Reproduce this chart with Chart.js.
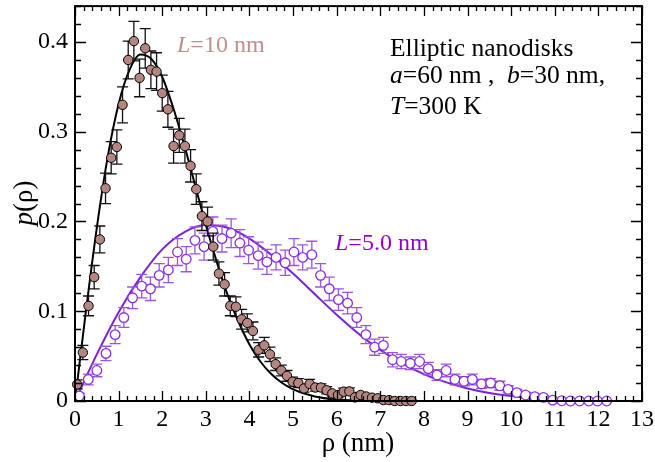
<!DOCTYPE html>
<html>
<head>
<meta charset="utf-8">
<script src="https://cdn.jsdelivr.net/npm/chart.js@4/dist/chart.umd.min.js"></script>
<style>
html,body{margin:0;padding:0;background:#fff;}
#wrap{width:655px;height:462px;}
</style>
</head>
<body>
<div id="wrap"><canvas id="c" width="655" height="462"></canvas></div>
<script>
// ---- data ----
const brownX = [0.05,0.18,0.31,0.44,0.57,0.70,0.83,0.96,1.09,1.22,1.35,1.48,1.61,1.74,1.87,2.00,2.13,2.26,2.39,2.52,2.65,2.78,2.91,3.04,3.17,3.30,3.43,3.56,3.69,3.82,3.95,4.08,4.21,4.34,4.47,4.60,4.73,4.86,4.99,5.12,5.25,5.38,5.51,5.64,5.77,5.90,6.03,6.16,6.29,6.42,6.55,6.68,6.81,6.94,7.07,7.20,7.33,7.46,7.59,7.72];
const brownY = [0.0185,0.054,0.106,0.138,0.180,0.237,0.271,0.283,0.330,0.380,0.401,0.360,0.393,0.369,0.367,0.343,0.325,0.284,0.296,0.284,0.262,0.236,0.206,0.200,0.172,0.142,0.130,0.106,0.105,0.091,0.087,0.078,0.057,0.062,0.052,0.041,0.034,0.028,0.0215,0.020,0.014,0.019,0.015,0.015,0.012,0.0085,0.0067,0.0104,0.0107,0.004,0.0067,0.005,0.0037,0.003,0.001,0.001,0,0,0,0];
const brownErr = [0.005,0.008,0.011,0.013,0.015,0.017,0.018,0.019,0.020,0.021,0.022,0.021,0.022,0.021,0.021,0.020,0.020,0.019,0.019,0.019,0.018,0.017,0.016,0.016,0.015,0.013,0.013,0.011,0.011,0.011,0.010,0.010,0.008,0.009,0.008,0.007,0.006,0.006,0.005,0.005,0.004,0.005,0.004,0.004,0.004,0.003,0.003,0.004,0.004,0.002,0.003,0.002,0.002,0.002,0.001,0.001,0,0,0,0];

const purpleX = [0.10,0.305,0.50,0.71,0.92,1.12,1.32,1.53,1.73,1.93,2.14,2.35,2.55,2.75,2.96,3.16,3.37,3.58,3.78,3.98,4.20,4.40,4.61,4.82,5.02,5.22,5.43,5.63,5.83,6.04,6.25,6.46,6.67,6.87,7.07,7.28,7.48,7.69,7.90,8.10,8.30,8.51,8.71,8.92,9.11,9.32,9.53,9.74,9.93,10.13,10.33,10.54,10.74,10.95,11.16,11.36,11.57,11.78,11.98,12.19];
const purpleY = [0.0056,0.024,0.034,0.053,0.074,0.093,0.115,0.128,0.125,0.140,0.146,0.166,0.158,0.179,0.172,0.189,0.181,0.187,0.176,0.168,0.162,0.155,0.160,0.154,0.166,0.160,0.163,0.140,0.125,0.113,0.109,0.093,0.074,0.060,0.062,0.046,0.044,0.042,0.044,0.036,0.029,0.034,0.024,0.022,0.024,0.019,0.020,0.017,0.013,0.0093,0.0067,0.0048,0.004,0.001,0.0003,0,0,0,0,0];
const purpleErr = [0.003,0.006,0.007,0.008,0.010,0.011,0.012,0.013,0.013,0.013,0.014,0.015,0.014,0.015,0.015,0.016,0.015,0.016,0.015,0.015,0.015,0.014,0.014,0.014,0.015,0.014,0.015,0.013,0.013,0.012,0.012,0.011,0.010,0.009,0.009,0.008,0.008,0.007,0.008,0.007,0.006,0.007,0.006,0.005,0.006,0.005,0.005,0.005,0.004,0.0035,0.003,0.0025,0.002,0,0,0,0,0,0,0];

const blackCurveX = [0,0.25,0.5,0.75,1,1.25,1.5,1.75,2,2.25,2.5,2.75,3,3.25,3.5,3.75,4,4.25,4.5,4.75,5,5.5,6,6.5,7,7.7];
const blackCurveY = [0,0.100,0.193,0.272,0.331,0.369,0.386,0.381,0.361,0.327,0.286,0.241,0.196,0.155,0.118,0.088,0.063,0.044,0.030,0.020,0.013,0.005,0.0016,0.0005,0.0001,0];

const purpleCurveX = [0,0.5,1,1.5,2,2.5,3,3.5,4,4.5,5,5.5,6,6.5,7,7.5,8,8.5,9,9.5,10,10.5,11,11.5,12];
const purpleCurveY = [0,0.052,0.099,0.138,0.169,0.188,0.196,0.193,0.181,0.163,0.142,0.119,0.096,0.075,0.057,0.042,0.030,0.021,0.014,0.009,0.0057,0.0035,0.0021,0.0012,0.0006];

const xTickValues = [0,1,2,3,4,5,6,7,8,9,10,11,12,13];
const xTickLabels = ['0','1','2','3','4','5','6','7','8','9','10','11','12','13'];
const yTickValues = [0,0.1,0.2,0.3,0.4];
const yTickLabels = ['0','0.1','0.2','0.3','0.4'];

// ---- styles ----
const SERIF = '"Liberation Serif", "Times New Roman", serif';
const BROWN_FILL = '#b5857f';
const PURPLE = '#8a2be2';
const PURPLE_BAR = '#9b55e0';
const PURPLE_CURVE = '#7a22d6';
const PURPLE_TEXT = '#9400d3';
const ROSY_TEXT = '#bf8f8f';

const pts = (xs, ys) => xs.map((x, i) => ({x: x, y: ys[i]}));

function drawRuns(ctx, x, y, runs, size, color) {
  ctx.fillStyle = color;
  ctx.textBaseline = 'alphabetic';
  ctx.textAlign = 'left';
  let cx = x;
  for (const r of runs) {
    ctx.font = (r.i ? 'italic ' : '') + size + 'px ' + SERIF;
    ctx.fillText(r.t, cx, y);
    cx += ctx.measureText(r.t).width;
  }
}

const framePlugin = {
  id: 'frame',
  beforeDatasetDraw(chart, args) {
    const ds = chart.data.datasets[args.index];
    if (!ds.errors) return;
    const xs = chart.scales.x, ys = chart.scales.y, ctx = chart.ctx, a = chart.chartArea;
    ctx.save();
    ctx.beginPath();
    ctx.rect(a.left, a.top, a.right - a.left, a.bottom - a.top);
    ctx.clip();
    ctx.strokeStyle = ds.errorColor;
    ctx.lineWidth = 1.3;
    ds.data.forEach((p, i) => {
      const e = ds.errors[i];
      if (!e) return;
      const px = xs.getPixelForValue(p.x);
      const y1 = ys.getPixelForValue(p.y + e);
      const y2 = ys.getPixelForValue(p.y - e);
      ctx.beginPath();
      ctx.moveTo(px, y1); ctx.lineTo(px, y2);
      ctx.moveTo(px - 5.5, y1); ctx.lineTo(px + 5.5, y1);
      ctx.moveTo(px - 5.5, y2); ctx.lineTo(px + 5.5, y2);
      ctx.stroke();
    });
    ctx.restore();
  },
  afterDraw(chart) {
    const ctx = chart.ctx, a = chart.chartArea;
    const xs = chart.scales.x, ys = chart.scales.y;
    ctx.save();
    // ticks inside on all four sides
    ctx.strokeStyle = '#000';
    ctx.lineWidth = 1.3;
    ctx.beginPath();
    for (let k = 0; k <= 65; k++) {
      const v = k * 0.2;
      const px = Math.round(xs.getPixelForValue(v)) + 0.5;
      const len = (k % 5 === 0) ? 10 : 5;
      ctx.moveTo(px, a.bottom); ctx.lineTo(px, a.bottom - len);
      ctx.moveTo(px, a.top); ctx.lineTo(px, a.top + len);
    }
    for (let k = 0; k <= 22; k++) {
      const v = k * 0.02;
      const py = Math.round(ys.getPixelForValue(v)) + 0.5;
      const len = (k % 5 === 0) ? 11 : 6;
      ctx.moveTo(a.left, py); ctx.lineTo(a.left + len, py);
      ctx.moveTo(a.right, py); ctx.lineTo(a.right - len, py);
    }
    ctx.stroke();
    // frame
    ctx.lineWidth = 2;
    ctx.strokeRect(a.left, a.top, a.right - a.left, a.bottom - a.top);

    // axis titles
    ctx.fillStyle = '#000';
    ctx.font = '27px ' + SERIF;
    ctx.textAlign = 'center';
    ctx.textBaseline = 'alphabetic';
    ctx.fillText('\u03C1 (nm)', 358, 451);

    ctx.save();
    ctx.translate(32, 203);
    ctx.rotate(-Math.PI / 2);
    ctx.font = 'italic 27px ' + SERIF;
    const w1 = ctx.measureText('p').width;
    ctx.font = '27px ' + SERIF;
    const w2 = ctx.measureText('(\u03C1)').width;
    const x0 = -(w1 + w2) / 2;
    drawRuns(ctx, x0, 0, [{t: 'p', i: true}, {t: '(\u03C1)'}], 27, '#000');
    ctx.restore();

    // annotations
    drawRuns(ctx, 177, 52, [{t: 'L', i: true}, {t: '=10 nm'}], 24, ROSY_TEXT);
    drawRuns(ctx, 335, 250, [{t: 'L', i: true}, {t: '=5.0 nm'}], 24, PURPLE_TEXT);
    drawRuns(ctx, 390, 56, [{t: 'Elliptic nanodisks'}], 25.5, '#000');
    drawRuns(ctx, 390, 83, [{t: 'a', i: true}, {t: '=60 nm ,  '}, {t: 'b', i: true}, {t: '=30 nm,'}], 25.5, '#000');
    drawRuns(ctx, 390, 114, [{t: 'T', i: true}, {t: '=300 K'}], 25.5, '#000');
    ctx.restore();
  }
};

new Chart(document.getElementById('c'), {
  type: 'scatter',
  data: {
    datasets: [
      {
        label: 'L=10 nm data', data: pts(brownX, brownY), errors: brownErr, errorColor: '#111',
        pointRadius: 4.7, pointHoverRadius: 4.7, backgroundColor: BROWN_FILL, borderColor: '#000',
        borderWidth: 1, showLine: false, clip: false, order: 0
      },
      {
        label: 'L=5.0 nm data', data: pts(purpleX, purpleY), errors: purpleErr, errorColor: PURPLE_BAR,
        pointRadius: 4.8, pointHoverRadius: 4.8, backgroundColor: '#fff', borderColor: PURPLE,
        borderWidth: 1.3, showLine: false, clip: false, order: 1
      },
      {
        type: 'line', label: 'L=10 nm fit', data: pts(blackCurveX, blackCurveY),
        borderColor: '#000', borderWidth: 2, pointRadius: 0, fill: false,
        cubicInterpolationMode: 'monotone', order: 2
      },
      {
        type: 'line', label: 'L=5.0 nm fit', data: pts(purpleCurveX, purpleCurveY),
        borderColor: PURPLE_CURVE, borderWidth: 2, pointRadius: 0, fill: false,
        cubicInterpolationMode: 'monotone', order: 3
      }
    ]
  },
  options: {
    responsive: false,
    animation: false,
    devicePixelRatio: 1,
    layout: {padding: {top: 5, right: 13, left: 0, bottom: 0}},
    plugins: {legend: {display: false}, tooltip: {enabled: false}},
    scales: {
      x: {
        type: 'linear', min: 0, max: 13,
        afterBuildTicks: s => { s.ticks = xTickValues.map(v => ({value: v})); },
        afterFit: s => { s.height = 61; s.paddingLeft = 0; s.paddingRight = 0; },
        grid: {display: false, drawTicks: false},
        border: {display: false},
        ticks: {
          autoSkip: false, maxRotation: 0, padding: 4, color: '#000',
          font: {family: SERIF, size: 24},
          callback: (v, i) => xTickLabels[i]
        }
      },
      y: {
        type: 'linear', min: 0, max: 0.44,
        afterBuildTicks: s => { s.ticks = yTickValues.map(v => ({value: v})); },
        afterFit: s => { s.width = 75; s.paddingTop = 0; s.paddingBottom = 0; },
        grid: {display: false, drawTicks: false},
        border: {display: false},
        ticks: {
          autoSkip: false, padding: 7, color: '#000',
          font: {family: SERIF, size: 24},
          callback: (v, i) => yTickLabels[i]
        }
      }
    }
  },
  plugins: [framePlugin]
});
</script>
</body>
</html>
